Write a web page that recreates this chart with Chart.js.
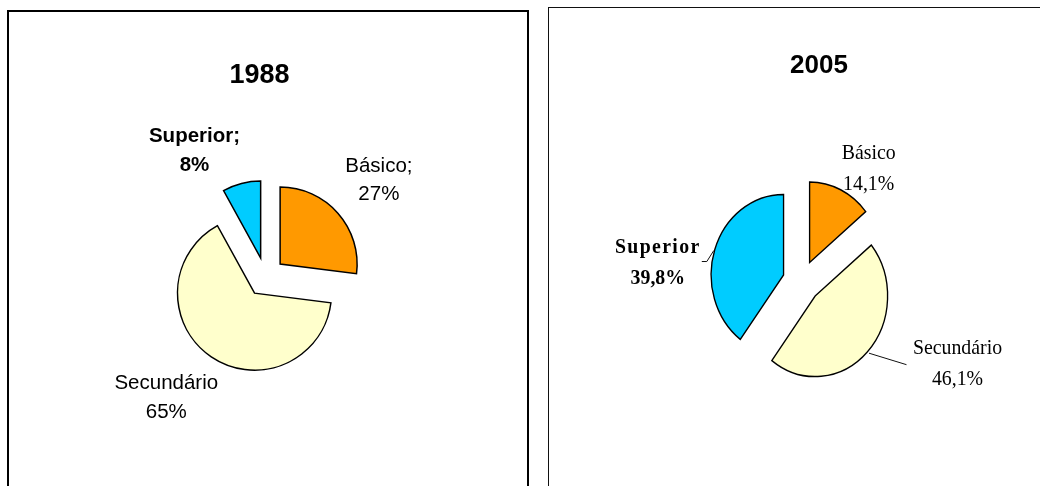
<!DOCTYPE html>
<html>
<head>
<meta charset="utf-8">
<script src="https://cdn.jsdelivr.net/npm/chart.js@4.4.1/dist/chart.umd.min.js"></script>
<style>
    body { margin: 0; width: 1040px; height: 486px; overflow: hidden; background: #fff; position: relative; }
    .box { position: absolute; box-sizing: border-box; }
    #box1 { left: 7px; top: 10px; width: 522px; height: 500px; border: 2px solid #000; }
    #box2 { left: 548px; top: 7px; width: 520px; height: 500px; border: 1.5px solid #111; }
    canvas { position: absolute; }
    #chart1988 { left: 5px; top: 17px; }
    #chart2005 { left: 561px; top: 22px; }
</style>
</head>
<body>
<div class="box" id="box1"></div>
<div class="box" id="box2"></div>
<canvas id="chart1988" width="521" height="520"></canvas>
<canvas id="chart2005" width="481" height="519"></canvas>

<script>
// escolaridade por nível, em %
const categories1988 = ["Básico;", "Secundário", "Superior;"];
const values1988 = [27, 65, 8];

const categories2005 = ["Básico", "Secundário", "Superior"];
const values2005 = [14.1, 46.1, 39.8];

const sliceColors = ["#FF9900", "#FFFFCC", "#00CCFF"];

// draws exploded slices (optionally squashed sideways) plus title and slice labels
const pieDecor = {
    id: "pieDecor",
    beforeDatasetDraw(chart, args, opts) {
        let ctx = chart.ctx;
        let arcs = args.meta.data;
        let cx = arcs[0].x, cy = arcs[0].y;
        ctx.save();
        ctx.translate(cx, cy);
        ctx.scale(opts.squash, 1);
        ctx.translate(-cx, -cy);
        arcs.forEach(arc => {
            let mid = (arc.startAngle + arc.endAngle) / 2;
            ctx.save();
            ctx.translate(Math.cos(mid) * opts.explode, Math.sin(mid) * opts.explode);
            arc.draw(ctx);
            ctx.restore();
        });
        ctx.restore();
        return false;
    },
    afterDatasetsDraw(chart, args, opts) {
        let ctx = chart.ctx;
        let arcs = chart.getDatasetMeta(0).data;
        let values = chart.data.datasets[0].data;
        let cx = arcs[0].x, cy = arcs[0].y;

        ctx.save();
        ctx.fillStyle = "#000";
        ctx.textAlign = "center";
        ctx.textBaseline = "alphabetic";

        ctx.font = opts.titleFont;
        ctx.fillText(opts.title, cx + opts.titleAt[0], cy + opts.titleAt[1]);

        arcs.forEach((arc, i) => {
            let mid = (arc.startAngle + arc.endAngle) / 2;
            let r = arc.outerRadius + opts.explode;
            let bx = cx + Math.cos(mid) * r * opts.squash;
            let by = cy + Math.sin(mid) * r;
            let lines = [chart.data.labels[i], opts.format(values[i])];

            ctx.font = (opts.bold[i] ? "bold " : "") + opts.labelFont;
            lines.forEach((t, j) => {
                ctx.save();
                ctx.letterSpacing = (j == 0 && opts.spacing[i]) ? opts.spacing[i] : "0px";
                ctx.translate(bx + opts.labelAt[i][0], by + opts.labelAt[i][1] + j * opts.lineGap);
                ctx.scale(opts.squash, 1);
                ctx.fillText(t, 0, 0);
                ctx.restore();
            });

            let leader = opts.leaders[i];
            if (leader) {
                ctx.beginPath();
                ctx.lineWidth = 1;
                ctx.strokeStyle = "#111";
                ctx.moveTo(bx + leader[0][0], by + leader[0][1]);
                leader.slice(1).forEach(p => ctx.lineTo(bx + p[0], by + p[1]));
                ctx.stroke();
            }
        });
        ctx.restore();
    }
};

function makePie(id, categories, values, radius, decor) {
    return new Chart(document.getElementById(id), {
        type: "pie",
        data: {
            labels: categories,
            datasets: [{
                data: values,
                backgroundColor: sliceColors,
                borderColor: "#000",
                borderWidth: 1.5,
                borderJoinStyle: "miter"
            }]
        },
        options: {
            responsive: false,
            animation: false,
            events: [],
            radius: radius,
            layout: { padding: 0 },
            plugins: {
                legend: { display: false },
                tooltip: { enabled: false },
                pieDecor: decor
            }
        },
        plugins: [pieDecor]
    });
}

makePie("chart1988", categories1988, values1988, 77, {
    title: "1988",
    titleFont: 'bold 27px "Liberation Sans", Arial, sans-serif',
    titleAt: [-6, -194],
    labelFont: '20.5px "Liberation Sans", Arial, sans-serif',
    bold: [false, false, true],
    spacing: [],
    squash: 1,
    explode: 19.5,
    lineGap: 28.3,
    labelAt: [[41, -41.5], [-45, 32.5], [-47, -41.2]],
    leaders: [null, null, null],
    format: v => v + "%"
});

makePie("chart2005", categories2005, values2005, 80.5, {
    title: "2005",
    titleFont: 'bold 26px "Liberation Sans", Arial, sans-serif',
    titleAt: [17.5, -208.5],
    labelFont: '22px "Liberation Serif", "Times New Roman", serif',
    bold: [false, false, true],
    spacing: [null, null, "1.5px"],
    squash: 0.9,
    explode: 21,
    lineGap: 30.5,
    labelAt: [[28, -30.5], [90, 2.6], [-57, 3.8]],
    leaders: [null, [[1.5, 1.5], [39, 13]], [[-1, 1], [-8, 12], [-13, 12]]],
    format: v => v.toFixed(1).replace(".", ",") + "%"
});
</script>
</body>
</html>
